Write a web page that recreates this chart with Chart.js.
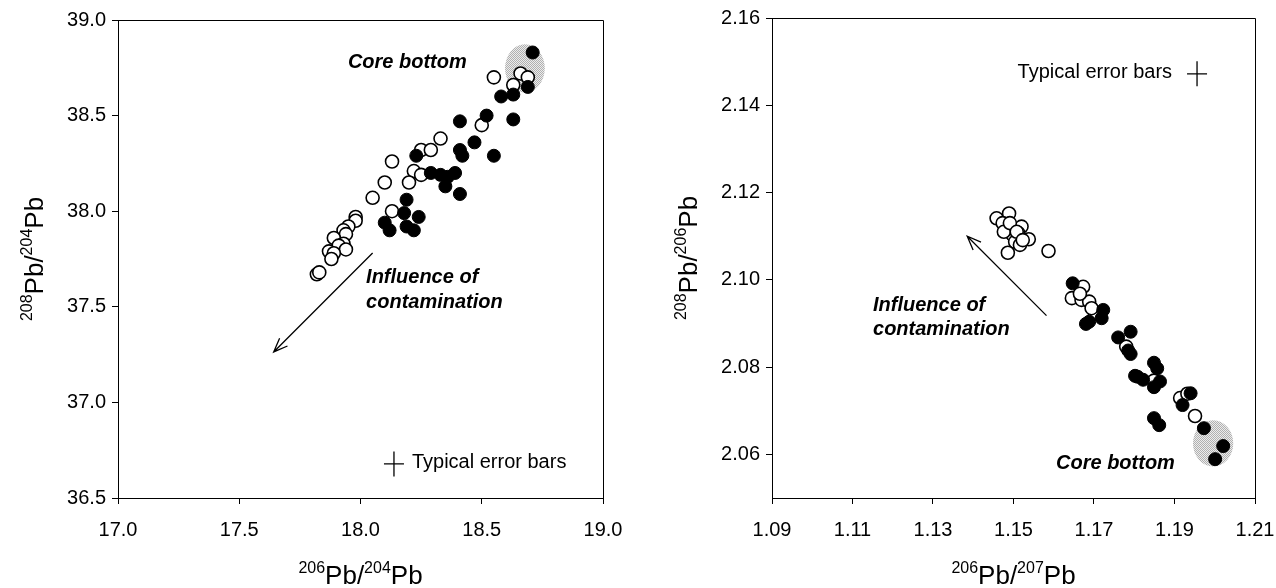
<!DOCTYPE html>
<html><head><meta charset="utf-8">
<script src="https://cdn.jsdelivr.net/npm/chart.js@4.4.0/dist/chart.umd.min.js"></script>
<style>
html,body{margin:0;padding:0;background:#fff;}
#wrap{position:relative;width:1276px;height:588px;overflow:hidden;}
canvas{position:absolute;top:0;}
</style></head><body>
<div id="wrap">
<canvas id="c1" width="638" height="588" style="left:0"></canvas>
<canvas id="c2" width="638" height="588" style="left:638px"></canvas>
</div>
<script>
// ---------- data ----------
const leftTicksX = [17.0, 17.5, 18.0, 18.5, 19.0];
const leftTicksY = [36.5, 37.0, 37.5, 38.0, 38.5, 39.0];
const rightTicksX = [1.09, 1.11, 1.13, 1.15, 1.17, 1.19, 1.21];
const rightTicksY = [2.06, 2.08, 2.10, 2.12, 2.14, 2.16];

// 206Pb/204Pb vs 208Pb/204Pb
const leftFilledX = [18.71,18.69,18.58,18.63,18.52,18.41,18.63,18.47,18.41,18.42,18.55,18.23,18.29,18.33,18.36,18.39,18.35,18.41,18.19,18.18,18.24,18.10,18.12,18.19,18.22];
const leftFilledY = [38.83,38.65,38.60,38.61,38.50,38.47,38.48,38.36,38.32,38.29,38.29,38.29,38.20,38.19,38.18,38.20,38.13,38.09,38.06,37.99,37.97,37.94,37.90,37.92,37.90];
const leftOpenX = [18.55,18.66,18.69,18.63,18.50,18.33,18.25,18.29,18.13,18.22,18.25,18.10,18.20,18.05,18.13,17.98,17.98,17.95,17.93,17.94,17.89,17.93,17.91,17.94,17.87,17.89,17.88,17.82,17.83];
const leftOpenY = [38.70,38.72,38.70,38.66,38.45,38.38,38.32,38.32,38.26,38.21,38.19,38.15,38.15,38.07,38.00,37.97,37.95,37.92,37.90,37.88,37.86,37.83,37.82,37.80,37.79,37.78,37.75,37.67,37.68];

// 206Pb/207Pb vs 208Pb/206Pb
const rightFilledX = [1.1647,1.1723,1.1719,1.1680,1.1688,1.1760,1.1791,1.1785,1.1791,1.1802,1.1822,1.1808,1.1849,1.1857,1.1864,1.1849,1.1849,1.1862,1.1940,1.1920,1.1973,1.2021,1.2001];
const rightFilledY = [2.0992,2.0931,2.0912,2.0899,2.0904,2.0868,2.0881,2.0838,2.0830,2.0780,2.0771,2.0778,2.0810,2.0797,2.0767,2.0754,2.0683,2.0667,2.0740,2.0713,2.0660,2.0619,2.0589];
const rightOpenX = [1.1458,1.1489,1.1473,1.1496,1.1520,1.1512,1.1498,1.1538,1.1504,1.1516,1.1486,1.1476,1.1491,1.1508,1.1523,1.1587,1.1673,1.1645,1.1669,1.1688,1.1665,1.1702,1.1694,1.1780,1.1849,1.1914,1.1932,1.1951];
const rightOpenY = [2.1141,2.1152,2.1130,2.1118,2.1122,2.1107,2.1103,2.1093,2.1087,2.1080,2.1062,2.1110,2.1130,2.1110,2.1091,2.1066,2.0984,2.0958,2.0954,2.0950,2.0968,2.0923,2.0935,2.0847,2.0769,2.0729,2.0739,2.0688];

// ---------- helpers ----------
const FONT = "'Liberation Sans', Arial, Helvetica, sans-serif";
const pts = (xs, ys) => xs.map((x, i) => ({x: x, y: ys[i]}));

function axis(min, max, ticks, dec, isY, size) {
  return {
    type: 'linear', min: min, max: max,
    afterBuildTicks: s => { s.ticks = ticks.map(v => ({value: v})); },
    afterFit: s => {
      if (isY) { s.width = size; s.paddingTop = 0; s.paddingBottom = 0; }
      else { s.height = size; s.paddingLeft = 0; s.paddingRight = 0; }
    },
    grid: {drawOnChartArea: false, drawTicks: true, tickLength: 6, tickColor: '#000', tickWidth: 1},
    border: {display: true, color: '#000', width: 1},
    ticks: {color: '#000', font: {family: FONT, size: 20}, padding: isY ? 6 : 14,
            maxRotation: 0, autoSkip: false,
            callback: v => Number(v).toFixed(dec)}
  };
}

function stipple(ctx) {
  const c = document.createElement('canvas');
  c.width = 2; c.height = 2;
  const g = c.getContext('2d');
  g.fillStyle = '#ececec'; g.fillRect(0, 0, 2, 2);
  g.fillStyle = '#b0b0b0';
  g.fillRect(0, 0, 1, 1); g.fillRect(1, 1, 1, 1);
  return ctx.createPattern(c, 'repeat');
}

function drawSup(ctx, parts, cx, cy, rot) {
  ctx.save();
  ctx.translate(cx, cy);
  if (rot) ctx.rotate(-Math.PI / 2);
  const big = "26px " + FONT, small = "16px " + FONT;
  let w = 0;
  parts.forEach(p => { ctx.font = p[1] ? small : big; w += ctx.measureText(p[0]).width; });
  let x = -w / 2;
  ctx.fillStyle = '#000';
  ctx.textBaseline = 'alphabetic';
  ctx.textAlign = 'left';
  parts.forEach(p => {
    ctx.font = p[1] ? small : big;
    ctx.fillText(p[0], x, p[1] ? 9 - 11 : 9);
    x += ctx.measureText(p[0]).width;
  });
  ctx.restore();
}

function annotPlugin(cfg) {
  return {
    id: 'annot',
    beforeDatasetsDraw(chart) {
      const {ctx, scales: {x, y}} = chart;
      const e = cfg.ellipse;
      const px = x.getPixelForValue(e.x), py = y.getPixelForValue(e.y);
      const rx = Math.abs(x.getPixelForValue(e.x + e.rx) - px);
      const ry = Math.abs(y.getPixelForValue(e.y + e.ry) - py);
      ctx.save();
      ctx.beginPath();
      ctx.ellipse(px, py, rx, ry, 0, 0, Math.PI * 2);
      ctx.fillStyle = stipple(ctx);
      ctx.fill();
      ctx.restore();
    },
    afterDraw(chart) {
      const {ctx, chartArea: a, scales: {x, y}} = chart;
      ctx.save();
      // frame top/right
      ctx.strokeStyle = '#000'; ctx.lineWidth = 1;
      ctx.beginPath();
      ctx.moveTo(a.left, a.top + 0.5); ctx.lineTo(a.right + 0.5, a.top + 0.5); ctx.lineTo(a.right + 0.5, a.bottom);
      ctx.stroke();
      // texts
      cfg.texts.forEach(t => {
        ctx.font = t.font;
        ctx.fillStyle = '#000';
        ctx.textAlign = t.align;
        ctx.textBaseline = 'middle';
        ctx.fillText(t.text, x.getPixelForValue(t.x), y.getPixelForValue(t.y));
      });
      // arrow
      const ar = cfg.arrow;
      const x0 = x.getPixelForValue(ar.x0), y0 = y.getPixelForValue(ar.y0);
      const x1 = x.getPixelForValue(ar.x1), y1 = y.getPixelForValue(ar.y1);
      const ang = Math.atan2(y1 - y0, x1 - x0);
      ctx.lineWidth = 1.3;
      ctx.beginPath();
      ctx.moveTo(x0, y0); ctx.lineTo(x1, y1);
      const hl = 15, ha = 0.38;
      ctx.moveTo(x1 - hl * Math.cos(ang - ha), y1 - hl * Math.sin(ang - ha));
      ctx.lineTo(x1, y1);
      ctx.lineTo(x1 - hl * Math.cos(ang + ha), y1 - hl * Math.sin(ang + ha));
      ctx.stroke();
      // error-bar cross
      const c = cfg.cross;
      const cx = x.getPixelForValue(c.x), cy = y.getPixelForValue(c.y);
      ctx.lineWidth = 1.3;
      ctx.beginPath();
      ctx.moveTo(cx - c.hw, cy); ctx.lineTo(cx + c.hw, cy);
      ctx.moveTo(cx, cy - c.hh); ctx.lineTo(cx, cy + c.hh);
      ctx.stroke();
      ctx.restore();
      // axis titles
      drawSup(ctx, cfg.xTitle, (a.left + a.right) / 2, 575, false);
      drawSup(ctx, cfg.yTitle, a.left - 84, (a.top + a.bottom) / 2, true);
    }
  };
}

const BI = "italic bold 20px " + FONT;
const RG = "20px " + FONT;

function makeChart(id, filled, open, sx, sy, pad, plugin) {
  return new Chart(document.getElementById(id), {
    type: 'scatter',
    data: {datasets: [
      {data: filled, pointRadius: 6.5, pointHoverRadius: 6.5, backgroundColor: '#000', borderColor: '#000', borderWidth: 1, order: 1},
      {data: open, pointRadius: 6.5, pointHoverRadius: 6.5, backgroundColor: '#fff', borderColor: '#000', borderWidth: 1.6, order: 2}
    ]},
    options: {
      responsive: false, animation: false, devicePixelRatio: 1,
      layout: {padding: pad},
      plugins: {legend: {display: false}, tooltip: {enabled: false}},
      scales: {x: sx, y: sy}
    },
    plugins: [plugin]
  });
}

makeChart('c1', pts(leftFilledX, leftFilledY), pts(leftOpenX, leftOpenY),
  axis(17.0, 19.0, leftTicksX, 1, false, 90),
  axis(36.5, 39.0, leftTicksY, 1, true, 118),
  {left: 0, top: 20, right: 35, bottom: 0},
  annotPlugin({
    ellipse: {x: 18.678, y: 38.747, rx: 0.082, ry: 0.126},
    texts: [
      {text: 'Core bottom', x: 17.948, y: 38.78, font: BI, align: 'left'},
      {text: 'Influence of', x: 18.023, y: 37.651, font: BI, align: 'left'},
      {text: 'contamination', x: 18.023, y: 37.525, font: BI, align: 'left'},
      {text: 'Typical error bars', x: 18.212, y: 36.688, font: RG, align: 'left'}
    ],
    arrow: {x0: 18.05, y0: 37.781, x1: 17.642, y1: 37.264},
    cross: {x: 18.138, y: 36.678, hw: 10, hh: 12.5},
    xTitle: [['206', true], ['Pb/', false], ['204', true], ['Pb', false]],
    yTitle: [['208', true], ['Pb/', false], ['204', true], ['Pb', false]]
  }));

makeChart('c2', pts(rightFilledX, rightFilledY), pts(rightOpenX, rightOpenY),
  axis(1.09, 1.21, rightTicksX, 2, false, 90),
  axis(2.05, 2.16, rightTicksY, 2, true, 134),
  {left: 0, top: 18, right: 21, bottom: 0},
  annotPlugin({
    ellipse: {x: 1.1996, y: 2.0625, rx: 0.005, ry: 0.0053},
    texts: [
      {text: 'Core bottom', x: 1.1901, y: 2.0580, font: BI, align: 'right'},
      {text: 'Influence of', x: 1.1151, y: 2.0942, font: BI, align: 'left'},
      {text: 'contamination', x: 1.1151, y: 2.0887, font: BI, align: 'left'},
      {text: 'Typical error bars', x: 1.1894, y: 2.1476, font: RG, align: 'right'}
    ],
    arrow: {x0: 1.1582, y0: 2.0918, x1: 1.1385, y1: 2.1100},
    cross: {x: 1.1956, y: 2.1472, hw: 10, hh: 12.5},
    xTitle: [['206', true], ['Pb/', false], ['207', true], ['Pb', false]],
    yTitle: [['208', true], ['Pb/', false], ['206', true], ['Pb', false]]
  }));
</script>
</body></html>
